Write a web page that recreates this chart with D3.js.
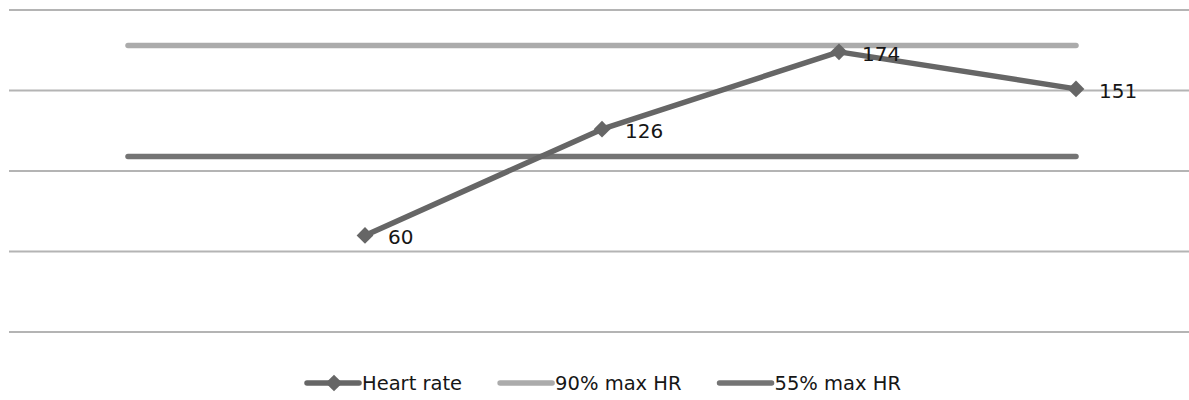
<!DOCTYPE html>
<html>
<head>
<meta charset="utf-8">
<script src="https://cdn.jsdelivr.net/npm/d3@7"></script>
<style>
  html, body { margin: 0; padding: 0; background: #ffffff; }
  svg { display: block; }
  text { font-family: "DejaVu Sans", sans-serif; }
</style>
</head>
<body>
<svg id="chart" width="1189" height="400"></svg>
<script>
// Training sessions (category axis is not labelled in the chart)
const categories = ["Session 1", "Session 2", "Session 3", "Session 4", "Session 5"];
// Measured heart rate per session (first session has no reading)
const heartRate = [null, 60, 126, 174, 151];
// Reference zones, 90% and 55% of maximum heart rate
const maxHR90 = [178, 178, 178, 178, 178];
const maxHR55 = [109, 109, 109, 109, 109];
// Value axis gridlines
const yTicks = [0, 50, 100, 150, 200];

const seriesNames = ["Heart rate", "90% max HR", "55% max HR"];
const colors = { hr: "#666666", hr90: "#ababab", hr55: "#747474", grid: "#b4b4b4" };

const svg = d3.select("#chart");
const W = 1189, H = 400;
const plot = { left: 9.5, right: 1194.5, top: 10, bottom: 332 };

const x = d3.scalePoint().domain(categories).range([plot.left, plot.right]).padding(0.5);
const y = d3.scaleLinear().domain([0, 200]).range([plot.bottom, plot.top]);

// Horizontal gridlines
svg.append("g")
  .selectAll("line")
  .data(yTicks)
  .join("line")
  .attr("x1", 9).attr("x2", W)
  .attr("y1", d => y(d)).attr("y2", d => y(d))
  .attr("stroke", colors.grid)
  .attr("stroke-width", 2);

const line = d3.line()
  .defined(d => d.v != null)
  .x(d => x(d.c))
  .y(d => y(d.v));

const toPts = arr => categories.map((c, i) => ({ c, v: arr[i] }));

// Zone lines
svg.append("path")
  .attr("d", line(toPts(maxHR90)))
  .attr("fill", "none")
  .attr("stroke", colors.hr90)
  .attr("stroke-width", 5.5)
  .attr("stroke-linecap", "round");

svg.append("path")
  .attr("d", line(toPts(maxHR55)))
  .attr("fill", "none")
  .attr("stroke", colors.hr55)
  .attr("stroke-width", 5.5)
  .attr("stroke-linecap", "round");

// Heart rate series
const hrPts = toPts(heartRate).filter(d => d.v != null);
svg.append("path")
  .attr("d", line(hrPts))
  .attr("fill", "none")
  .attr("stroke", colors.hr)
  .attr("stroke-width", 5.5)
  .attr("stroke-linejoin", "round");

const diamond = d3.symbol().type(d3.symbolSquare).size(140);
svg.append("g")
  .selectAll("path")
  .data(hrPts)
  .join("path")
  .attr("d", diamond)
  .attr("transform", d => `translate(${x(d.c)},${y(d.v)}) rotate(45)`)
  .attr("fill", colors.hr);

// Value labels
svg.append("g")
  .selectAll("text")
  .data(hrPts)
  .join("text")
  .attr("x", d => x(d.c) + 23)
  .attr("y", d => y(d.v) + 2)
  .attr("dominant-baseline", "central")
  .attr("font-size", 20)
  .attr("fill", "#161616")
  .text(d => d.v);

// Legend
const legendItems = [
  { name: seriesNames[0], color: colors.hr, marker: true },
  { name: seriesNames[1], color: colors.hr90, marker: false },
  { name: seriesNames[2], color: colors.hr55, marker: false }
];
const legend = svg.append("g").attr("transform", "translate(0,383)");
const legendStarts = [];
let lx = 307;
legendItems.forEach(item => {
  const g = legend.append("g").attr("transform", `translate(${lx},0)`);
  g.append("line")
    .attr("x1", 0).attr("x2", 52)
    .attr("y1", 0).attr("y2", 0)
    .attr("stroke", item.color)
    .attr("stroke-width", 5.5)
    .attr("stroke-linecap", "round");
  if (item.marker) {
    g.append("path")
      .attr("d", diamond)
      .attr("transform", "translate(27,0) rotate(45)")
      .attr("fill", item.color);
  }
  const t = g.append("text")
    .attr("x", 55)
    .attr("y", 0)
    .attr("dominant-baseline", "central")
    .attr("font-size", 19.5)
    .attr("fill", "#161616")
    .text(item.name);
  lx += 55 + t.node().getComputedTextLength() + 38;
});
</script>
</body>
</html>
